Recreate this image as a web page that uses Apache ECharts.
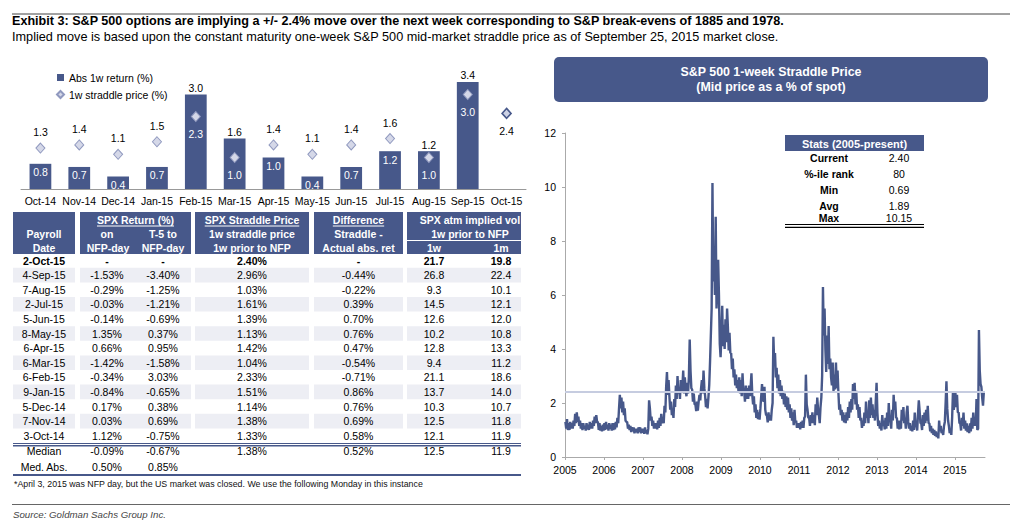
<!DOCTYPE html>
<html><head><meta charset="utf-8">
<script src="https://cdn.jsdelivr.net/npm/echarts@6/dist/echarts.min.js"></script>
<style>html,body{margin:0;padding:0;background:#fff}#c{width:1024px;height:522px}</style>
</head><body><div id="c"></div>
<script>
// ---------------- DATA ----------------
const barCategories = ['Oct-14','Nov-14','Dec-14','Jan-15','Feb-15','Mar-15','Apr-15','May-15','Jun-15','Jul-15','Aug-15','Sep-15','Oct-15'];
const absReturn1w = [0.8,0.7,0.4,0.7,3.0,1.6,1.0,0.4,0.7,1.2,1.2,3.4,null];
const straddle1w  = [1.3,1.4,1.1,1.5,2.3,1.0,1.4,1.1,1.4,1.6,1.0,3.0,2.4];

const payrollDates = ['2-Oct-15','4-Sep-15','7-Aug-15','2-Jul-15','5-Jun-15','8-May-15','6-Apr-15','6-Mar-15','6-Feb-15','9-Jan-15','5-Dec-14','7-Nov-14','3-Oct-14'];
const retOnNfpDay  = [null,-1.53,-0.29,-0.03,-0.14,1.35,0.66,-1.42,-0.34,-0.84,0.17,0.03,1.12];
const retT5toNfp   = [null,-3.40,-1.25,-1.21,-0.69,0.37,0.95,-1.58,3.03,-0.65,0.38,0.69,-0.75];
const straddlePrior= [2.40,2.96,1.03,1.61,1.39,1.13,1.42,1.04,2.33,1.51,1.14,1.38,1.33];
const diffStraddle = [null,-0.44,-0.22,0.39,0.70,0.76,0.47,-0.54,-0.71,0.86,0.76,0.69,0.58];
const vol1w        = [21.7,26.8,9.3,14.5,12.6,10.2,12.8,9.4,21.1,13.7,10.3,12.5,12.1];
const vol1m        = [19.8,22.4,10.1,12.1,12.0,10.8,13.3,11.2,18.6,14.0,10.7,11.8,11.9];
const medianRow    = [-0.09,-0.67,1.38,0.52,12.5,11.9];
const medAbsRow    = [0.50,0.85];

const statLabels = ['Current','%-ile rank','Min','Avg','Max'];
const statValues = ['2.40','80','0.69','1.89','10.15'];
const currentStraddle = 2.40;
const yearTicks = [2005,2006,2007,2008,2009,2010,2011,2012,2013,2014,2015];

// 1-week straddle (% of spot), ~4 readings per month
const s2005 = [1.3,1.05,1.4,1.0, 1.25,1.0,1.3,1.05, 1.25,1.05,1.35,1.15, 1.6,1.25,1.65,1.3, 1.5,1.15,1.35,1.05, 1.25,1.0,1.25,1.05, 1.15,0.98,1.25,1.02, 1.2,1.0,1.3,1.05, 1.25,1.05,1.35,1.15, 1.5,1.25,1.55,1.3, 1.3,1.0,1.25,0.98, 1.15,0.95,1.2,0.98];
const s2006 = [1.25,1.0,1.3,1.05, 1.2,0.98,1.25,1.05, 1.2,0.98,1.25,1.0, 1.25,1.02,1.3,1.1, 1.45,1.25,1.8,2.3, 1.8,2.2,1.65,2.05, 1.55,1.8,1.35,1.3, 1.3,1.05,1.2,1.0, 1.15,0.92,1.1,0.95, 1.1,0.88,1.05,0.92, 1.05,0.88,1.1,0.92, 1.1,0.88,1.05,0.9];
const s2007 = [1.05,0.86,1.1,0.88, 1.0,0.84,1.05,2.1, 1.8,1.35,1.5,1.15, 1.35,1.05,1.25,1.05, 1.25,1.02,1.35,1.08, 1.45,1.15,1.6,1.25, 1.45,1.25,1.9,1.65, 2.6,3.15,2.3,2.85, 2.25,1.75,2.05,1.55, 1.75,1.45,2.15,1.85, 2.65,2.15,3.0,2.35, 2.55,2.15,2.85,2.45];
const s2008 = [2.6,3.2,2.35,2.95, 2.5,2.25,2.75,2.35, 3.0,4.35,3.2,2.55, 2.5,2.05,2.35,1.95, 1.95,1.7,2.05,1.72, 2.05,2.3,2.1,2.55, 2.85,2.35,3.2,2.55, 2.25,1.85,2.15,1.8, 2.2,2.65,3.5,4.5, 5.5,10.15,6.5,7.6, 6.0,8.9,5.5,6.4, 7.3,6.0,4.2,3.7];
const s2009 = [4.5,5.6,4.1,4.9, 4.0,5.1,4.25,5.5, 4.8,3.95,4.6,3.85, 3.85,3.25,3.65,2.95, 3.25,2.65,3.05,2.55, 2.85,2.45,2.95,2.35, 2.85,2.25,3.1,2.45, 2.45,2.05,2.65,2.15, 2.55,2.15,2.65,2.25, 2.6,3.1,2.3,1.95, 2.25,1.65,1.95,1.45, 1.75,1.4,1.65,1.38];
const s2010 = [1.8,2.25,2.7,2.15, 2.05,2.6,1.75,1.55, 1.55,1.28,1.65,1.35, 1.55,1.35,1.75,2.0, 4.45,3.45,3.85,2.95, 3.3,2.55,3.05,2.35, 2.85,2.25,2.65,2.15, 2.45,1.95,2.35,1.85, 2.25,1.75,2.2,1.65, 1.95,1.45,1.8,1.35, 1.65,1.18,1.75,1.28, 1.35,1.08,1.25,1.08];
const s2011 = [1.25,1.02,1.3,1.08, 1.35,1.08,1.45,1.5, 3.05,1.95,1.75,1.45, 1.45,1.15,1.55,1.25, 1.65,1.25,1.55,1.18, 1.95,1.55,2.2,1.75, 1.55,1.25,1.85,2.2, 3.0,6.3,4.5,5.5, 4.0,3.15,4.5,3.45, 4.85,3.25,3.65,2.95, 2.65,3.5,2.45,3.05, 2.5,3.5,2.55,3.2];
const s2012 = [2.4,1.75,1.95,1.55, 1.75,1.35,1.65,1.28, 1.55,1.25,1.65,1.35, 1.85,1.45,2.05,1.65, 2.15,1.75,2.7,2.15, 2.75,1.95,2.45,1.75, 1.95,1.45,1.85,1.35, 1.45,1.08,1.35,1.15, 1.65,1.25,2.05,1.45, 1.65,1.25,2.1,1.45, 2.2,1.55,1.95,1.45, 1.75,1.35,2.05,2.75];
const s2013 = [1.65,1.15,1.35,1.05, 1.25,0.98,1.55,1.15, 1.35,1.02,1.45,1.05, 1.65,1.15,2.0,1.35, 1.35,1.05,1.75,1.35, 2.3,1.75,2.05,1.45, 1.45,1.05,1.35,1.02, 1.35,1.05,1.75,1.35, 1.85,1.25,1.45,1.05, 1.65,1.9,1.3,1.05, 1.25,0.98,1.15,0.95, 1.35,1.0,1.65,1.15];
const s2014 = [1.15,0.98,1.6,2.1, 1.7,1.25,1.25,1.0, 1.55,1.15,1.65,1.25, 1.75,1.35,1.9,1.25, 1.25,0.95,1.15,0.88, 1.05,0.82,1.0,0.78, 0.95,0.74,0.85,0.69, 1.35,0.95,1.15,0.88, 0.95,0.82,1.15,1.3, 2.0,2.8,1.8,1.35, 1.15,0.88,1.05,0.82, 1.45,2.4,1.75,2.0];
const s2015 = [2.4,1.85,2.3,1.65, 1.65,1.25,1.25,0.98, 1.45,1.15,1.65,1.05, 1.35,0.98,1.25,0.92, 1.15,0.88,1.25,0.95, 1.45,1.05,1.65,1.15, 1.45,1.15,2.15,1.0, 1.05,4.7,3.2,2.7, 2.6,2.2,1.9,2.4];
const straddleYears = [[2005,s2005],[2006,s2006],[2007,s2007],[2008,s2008],[2009,s2009],[2010,s2010],[2011,s2011],[2012,s2012],[2013,s2013],[2014,s2014],[2015,s2015]];

// ---------------- BUILD ----------------
const FONT = '"Liberation Sans", Arial, Helvetica, sans-serif';
const DARK = '#47588a';
const LIGHTROW = '#edeef4';

const seriesData = [];
straddleYears.forEach(([yr, arr]) => arr.forEach((v, i) => seriesData.push([yr + (i + 0.5) / 48, v])));

const ctx = document.createElement('canvas').getContext('2d');
function tw(t, font){ ctx.font = font; return ctx.measureText(t).width; }
function fnt(size, bold, italic){ return (italic?'italic ':'') + (bold?'bold ':'') + size + 'px ' + FONT; }

const g = [];
function txt(x, y, text, o){
  o = o || {};
  g.push({type:'text', x:x, y:y, silent:true, z:100,
    style:{text:text, fill:o.fill||'#000', font:fnt(o.size||10.5, o.bold, o.italic),
      align:o.align||'center', verticalAlign:'middle'}});
}
function rect(x, y, w, h, fill, r){
  g.push({type:'rect', silent:true, z:90, shape:{x:x, y:y, width:w, height:h, r:r||0}, style:{fill:fill}});
}
function line(x1, y1, x2, y2, stroke, lw){
  g.push({type:'line', silent:true, z:95, shape:{x1:x1,y1:y1,x2:x2,y2:y2}, style:{stroke:stroke, lineWidth:lw||1}});
}
function underlined(x, y, text, size){
  txt(x, y, text, {bold:true, fill:'#fff', size:size});
  const w = tw(text, fnt(size, true));
  line(x - w/2, y + 6.5, x + w/2, y + 6.5, '#fff', 1);
}

// Title block
line(12, 14, 1010, 14, '#444', 1);
txt(12, 21, 'Exhibit 3: S&P 500 options are implying a +/- 2.4% move over the next week corresponding to S&P break-evens of 1885 and 1978.', {bold:true, size:12.6, align:'left'});
txt(12, 36.5, 'Implied move is based upon the constant maturity one-week S&P 500 mid-market straddle price as of September 25, 2015 market close.', {size:12.7, align:'left'});

// Table header
const blocks = [[13,75],[80,191],[195,309],[314,403],[407,521]];
blocks.forEach(b => rect(b[0], 212, b[1]-b[0], 42, DARK));
const hs = 10.5, W = {bold:true, fill:'#fff', size:hs};
const H1 = 219.5, H2 = 233.5, H3 = 247.5;
txt(44, H2, 'Payroll', W); txt(44, H3, 'Date', W);
underlined(135.5, H1, 'SPX Return (%)', hs);
txt(107, H2, 'on', W); txt(163, H2, 'T-5 to', W);
txt(108, H3, 'NFP-day', W); txt(163, H3, 'NFP-day', W);
underlined(252, H1, 'SPX Straddle Price', hs);
txt(252, H2, '1w straddle price', W); txt(252, H3, '1w prior to NFP', W);
underlined(358.5, H1, 'Difference', hs);
txt(358.5, H2, 'Straddle -', W); txt(358.5, H3, 'Actual abs. ret', W);
txt(470, H1, 'SPX atm implied vol', W); txt(470, H2, '1w prior to NFP', W);
line(407, 240.5, 521, 240.5, '#fff', 1);
txt(434, H3, '1w', W); txt(501, H3, '1m', W);

// Table body
const colX = [44, 107, 163, 252, 358.5, 434, 501];
const pct = v => v == null ? '-' : v.toFixed(2) + '%';
const r1 = v => v == null ? '-' : v.toFixed(1);
const row0 = 260.5, step = 14.6;
payrollDates.forEach((d, i) => {
  const y = row0 + i*step;
  if (i % 2 === 1) blocks.forEach(b => rect(b[0], y - step/2, b[1]-b[0], step, LIGHTROW));
  const cells = [d, pct(retOnNfpDay[i]), pct(retT5toNfp[i]), pct(straddlePrior[i]), pct(diffStraddle[i]), r1(vol1w[i]), r1(vol1m[i])];
  cells.forEach((c, j) => txt(colX[j], y, c, {bold: i === 0}));
});
line(13, 443.5, 521, 443.5, DARK, 1);
line(13, 445.8, 521, 445.8, DARK, 1.6);
const yMed = 451, yMedAbs = 466.5;
txt(colX[0], yMed, 'Median');
txt(colX[1], yMed, pct(medianRow[0])); txt(colX[2], yMed, pct(medianRow[1]));
txt(colX[3], yMed, pct(medianRow[2])); txt(colX[4], yMed, pct(medianRow[3]));
txt(colX[5], yMed, r1(medianRow[4])); txt(colX[6], yMed, r1(medianRow[5]));
txt(colX[0], yMedAbs, 'Med. Abs.');
txt(colX[1], yMedAbs, pct(medAbsRow[0])); txt(colX[2], yMedAbs, pct(medAbsRow[1]));
line(13, 475, 521, 475, DARK, 2);
txt(14, 484, '*April 3, 2015 was NFP day, but the US market was closed. We use the following Monday in this instance', {size:8.8, align:'left', fill:'#111'});
line(12, 504.5, 1010, 504.5, '#666', 1);
txt(13, 514, 'Source: Goldman Sachs Group Inc.', {size:9.7, italic:true, align:'left', fill:'#444'});

// Right panel title box
rect(554, 57, 434, 45, DARK, 5);
txt(771, 72, 'S&P 500 1-week Straddle Price', {bold:true, fill:'#fff', size:12.4});
txt(771, 87, '(Mid price as a % of spot)', {bold:true, fill:'#fff', size:12.4});

// Stats box
rect(785, 135, 139, 16, DARK);
txt(854.5, 143.5, 'Stats (2005-present)', {bold:true, fill:'#fff', size:11});
const statY = [158, 174, 190, 205.5, 217.5];
statLabels.forEach((l, i) => {
  txt(829, statY[i], l, {bold:true, size:10.5});
  txt(899, statY[i], statValues[i], {size:10.5});
});
line(785, 224.5, 924, 224.5, '#000', 1.2);
line(785, 227.3, 924, 227.3, '#000', 1.2);

// Bar chart series
const barSeriesData = absReturn1w.map((v, i) => {
  if (v == null) return '-';
  const above = v > straddle1w[i];
  return {value: v, label: above
    ? {show:true, position:'top', distance:1, color:'#000'}
    : {show:true, position:'insideTop', distance:3, color:'#fff'}};
});
const scatterData = straddle1w.map((v, i) => {
  const b = absReturn1w[i];
  const below = (b == null) || b > v;
  const item = {value: v, label: {show:true, position: below ? 'bottom' : 'top', distance: below ? 6 : 5,
    color: (b != null && b > v) ? '#fff' : '#000'}};
  if (b == null) item.itemStyle = {borderColor: DARK, borderWidth: 1.6, color: '#ccd1e4'};
  return item;
});

const chart = echarts.init(document.getElementById('c'), null, {renderer:'svg', width:1024, height:522});
chart.setOption({
  animation: false,
  backgroundColor: '#fff',
  textStyle: {fontFamily: FONT},
  legend: {
    show: true, orient: 'vertical', left: 51, top: 67, itemGap: 6, itemWidth: 7, itemHeight: 7,
    textStyle: {fontSize: 10.5, color: '#000', fontFamily: FONT},
    data: [{name:'Abs 1w return (%)', icon:'rect'}, {name:'1w straddle price (%)', icon:'diamond'}]
  },
  grid: [
    {left: 21, right: 498, top: 63, bottom: 333, outerBoundsMode: 'none'},
    {left: 565, right: 39, top: 133, bottom: 65, outerBoundsMode: 'none'}
  ],
  xAxis: [
    {type:'category', gridIndex:0, data: barCategories,
     axisLine:{show:true, lineStyle:{color:'#999', width:1}}, axisTick:{show:false},
     axisLabel:{color:'#000', fontSize:10.5, margin:6, interval:0, fontFamily:FONT}},
    {type:'value', gridIndex:1, min:2005, max:2015.77, interval:1, splitLine:{show:false},
     axisLine:{show:true, lineStyle:{color:'#aaa'}},
     axisTick:{show:true, length:3, lineStyle:{color:'#aaa'}, customValues: yearTicks},
     axisLabel:{color:'#000', fontSize:10.5, margin:7, fontFamily:FONT, customValues: yearTicks,
       formatter: v => (Math.abs(v - Math.round(v)) < 1e-6 ? String(Math.round(v)) : '')}}
  ],
  yAxis: [
    {type:'value', gridIndex:0, min:0, max:4, show:false, splitLine:{show:false}},
    {type:'value', gridIndex:1, min:0, max:12, interval:2, splitLine:{show:false},
     axisLine:{show:true, lineStyle:{color:'#aaa'}}, axisTick:{show:true, length:3, lineStyle:{color:'#aaa'}},
     axisLabel:{color:'#000', fontSize:10.5, margin:9, fontFamily:FONT}}
  ],
  series: [
    {name:'Abs 1w return (%)', type:'bar', xAxisIndex:0, yAxisIndex:0, barWidth:'56%',
     itemStyle:{color: DARK}, data: barSeriesData,
     label:{fontSize:10.5, fontFamily:FONT, formatter: p => Number(p.value).toFixed(1)}},
    {name:'1w straddle price (%)', type:'scatter', xAxisIndex:0, yAxisIndex:0, symbol:'diamond', symbolSize:[9,10],
     itemStyle:{color:'#d5d8e8', borderColor:'#9099bf', borderWidth:1, opacity:1}, data: scatterData, z:3,
     label:{fontSize:10.5, color:'#000', fontFamily:FONT, formatter: p => Number(p.value).toFixed(1)}},
    {name:'S&P 500 1-week straddle', type:'line', xAxisIndex:1, yAxisIndex:1, data: seriesData,
     showSymbol:false, symbol:'none', lineStyle:{color: DARK, width:2.4}, itemStyle:{color:DARK},
     markLine:{silent:true, symbol:['none','none'], label:{show:false},
       lineStyle:{color:'#c6cce0', width:2, type:'solid'}, data:[{yAxis: currentStraddle}]}}
  ],
  graphic: {elements: g}
});
</script>
</body></html>
